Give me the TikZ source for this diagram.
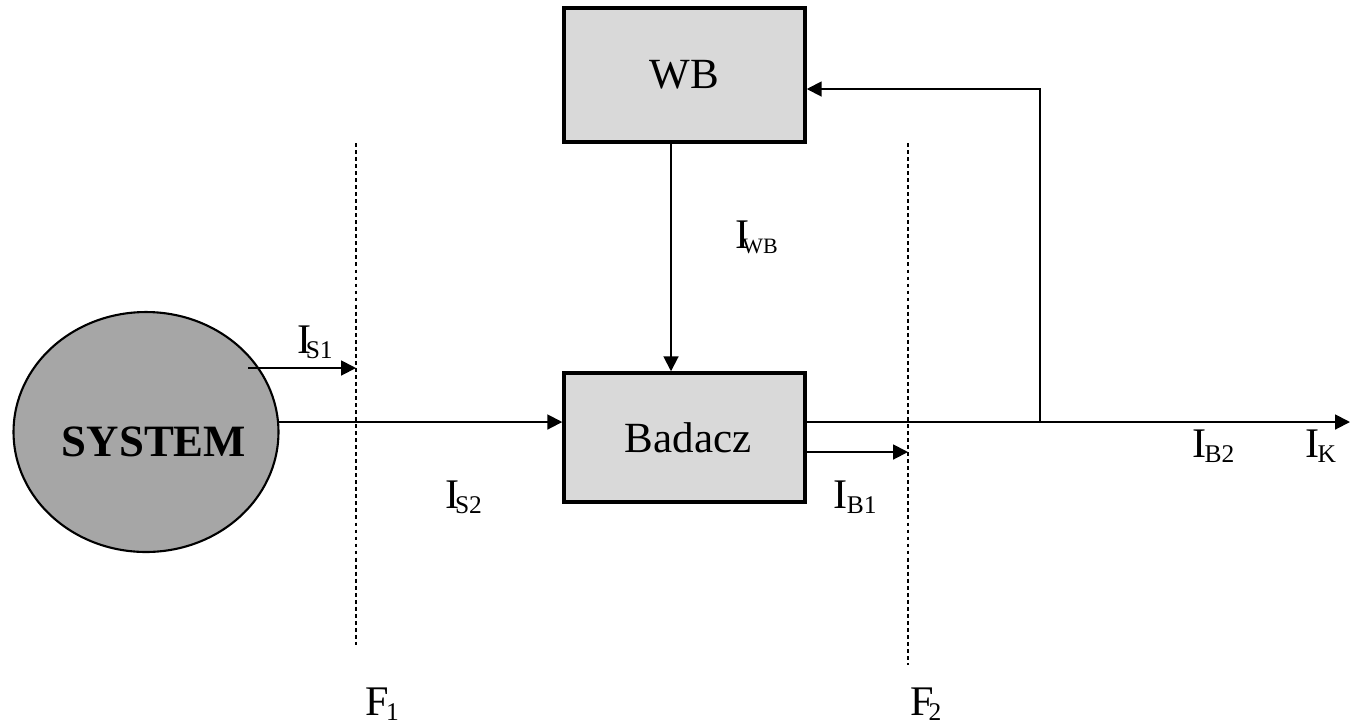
\documentclass[tikz,border=0pt]{standalone}
\usepackage{fontspec}
\setmainfont{Liberation Serif}
\usetikzlibrary{arrows.meta,shapes.geometric,calc}
\definecolor{boxgray}{HTML}{D9D9D9}
\definecolor{sysgray}{HTML}{A6A6A6}
\newcommand{\mylab}[3]{#1\kern#3\raisebox{-3pt}{\fontsize{14.5}{14.5}\selectfont #2}}
\begin{document}
\begin{tikzpicture}[x=0.02cm,y=-0.02cm,
  blockbox/.style={draw, line width=2pt, fill=boxgray, minimum width=4.82cm, inner sep=0pt,
    font=\fontsize{24.5}{24.5}\selectfont},
  conn/.style={line width=1.1pt},
  arr/.style={conn, -{Triangle[length=8.5pt,width=8.5pt]}},
  border/.style={line width=0.9pt, dash pattern=on 2.2pt off 1.8pt},
  lab/.style={anchor=base west, inner sep=0pt, font=\fontsize{24}{24}\selectfont}]
\useasboundingbox (0,0) rectangle (1352,725);
% nodes
\node[ellipse, draw, line width=1.2pt, fill=sysgray, minimum width=5.3cm, minimum height=4.8cm, inner sep=0pt] (sys) at (146,432) {};
\node[font=\fontsize{25.5}{25.5}\bfseries\selectfont, inner sep=0pt] (systxt) at (154,442) {SYSTEM};
\node[blockbox, minimum height=2.68cm] (wb) at (684.5,75) {WB};
\node[blockbox, minimum height=2.58cm] (bad) at (684.5,437.5) {\kern4pt Badacz};
% frontier lines
\coordinate (f1t) at (356,143);
\coordinate (f1b) at (356,645);
\coordinate (f2t) at (908,143);
\coordinate (f2b) at (908,665);
\draw[border] (f1t) -- (f1b);
\draw[border] (f2t) -- (f2b);
% helper coordinates
\coordinate (s1) at (248,368);
\coordinate (main) at (279,422);
\coordinate (b1) at (805,452);
\coordinate (br) at (1040,422);
\coordinate (brt) at (1040,89);
\coordinate (endk) at (1350,422);
% connectors
\draw[arr] (s1) -- (s1 -| f1t);
\draw[arr] (main) -- (main -| bad.west);
\draw[arr] (wb.south -| 671,0) -- (bad.north -| 671,0);
\draw[arr] (main -| bad.east) -- (endk);
\draw[arr] (br) -- (brt) -- (brt -| wb.east);
\draw[arr] (b1) -- (b1 -| f2t);
% labels
\node[lab] (ls1) at (297,353) {\mylab{I}{S1}{-3.2pt}};
\node[lab] (lwb) at (735,248) {\mylab{I}{\fontsize{12.5}{12.5}\selectfont WB}{-4pt}};
\node[lab] (ls2) at (445,508) {\mylab{I}{S2}{-2.5pt}};
\node[lab] (lb1) at (833,508) {\mylab{I}{B1}{-0.3pt}};
\node[lab] (lb2) at (1192,457) {\mylab{I}{B2}{-1pt}};
\node[lab] (lk) at (1305,457) {\mylab{I}{K}{-1pt}};
\node[lab] (lf1) at (365,715) {\mylab{F}{1}{-1.5pt}};
\node[lab] (lf2) at (910,715) {\mylab{F}{2}{-3pt}};
\end{tikzpicture}
\end{document}
